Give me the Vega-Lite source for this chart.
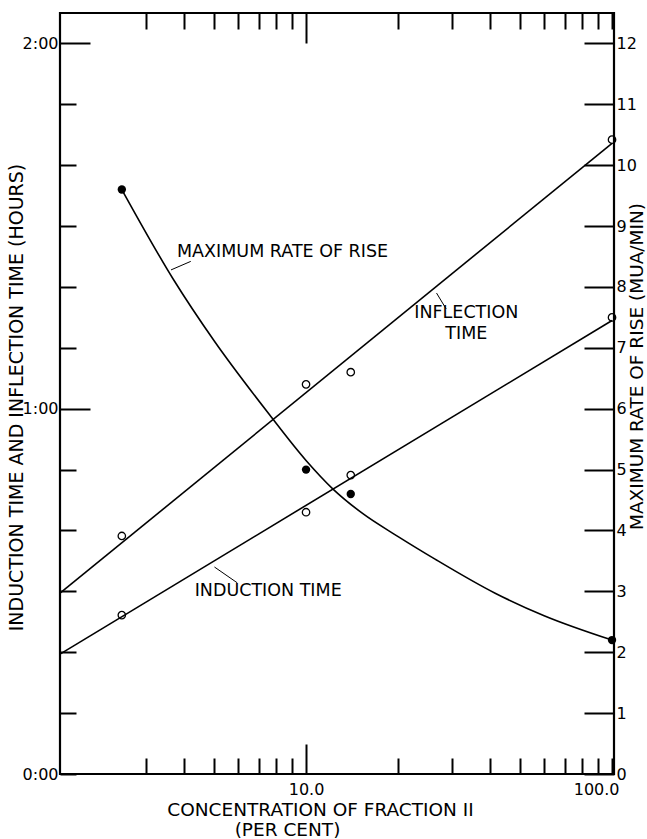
{
  "$schema": "https://vega.github.io/schema/vega-lite/v6.json",
  "width": 554,
  "height": 761,
  "autosize": {"type": "none"},
  "padding": {"left": 60, "top": 13, "right": 33, "bottom": 65},
  "background": "white",
  "config": {
    "view": {"stroke": "black", "strokeWidth": 2.2},
    "font": "DejaVu Sans",
    "axis": {
      "domain": false, "grid": false,
      "labelFont": "DejaVu Sans", "labelFontSize": 16, "labelColor": "black",
      "titleFont": "DejaVu Sans", "titleFontSize": 19, "titleFontWeight": "normal", "titleColor": "black",
      "tickColor": "black", "tickWidth": 2
    }
  },
  "datasets": {
    "fit": [
      {"series": "inflection", "conc": 1.57, "minutes": 29.7},
      {"series": "inflection", "conc": 100, "minutes": 103.6},
      {"series": "induction", "conc": 1.57, "minutes": 19.7},
      {"series": "induction", "conc": 100, "minutes": 74.5}
    ],
    "obs": [
      {"series": "inflection", "conc": 2.5, "minutes": 39.1},
      {"series": "inflection", "conc": 10, "minutes": 64.0},
      {"series": "inflection", "conc": 14, "minutes": 66.0},
      {"series": "inflection", "conc": 100, "minutes": 104.2},
      {"series": "induction", "conc": 2.5, "minutes": 26.1},
      {"series": "induction", "conc": 10, "minutes": 43.0},
      {"series": "induction", "conc": 14, "minutes": 49.1},
      {"series": "induction", "conc": 100, "minutes": 75.0}
    ],
    "rateCurve": [
      {"conc": 2.5, "rate": 9.6},
      {"conc": 3.7, "rate": 8.11},
      {"conc": 5, "rate": 7.12},
      {"conc": 7.6, "rate": 5.9},
      {"conc": 10, "rate": 5.15},
      {"conc": 12.25, "rate": 4.68},
      {"conc": 15.3, "rate": 4.28},
      {"conc": 20, "rate": 3.9},
      {"conc": 26.4, "rate": 3.53},
      {"conc": 41.5, "rate": 2.97},
      {"conc": 60, "rate": 2.6},
      {"conc": 100, "rate": 2.2}
    ],
    "rateObs": [
      {"conc": 2.5, "rate": 9.6},
      {"conc": 10, "rate": 5.0},
      {"conc": 14, "rate": 4.6},
      {"conc": 100, "rate": 2.2}
    ],
    "leaders": [
      {"conc": 4.2, "rate": 8.42, "conc2": 3.62, "rate2": 8.28},
      {"conc": 26.7, "rate": 7.9, "conc2": 28.7, "rate2": 7.64},
      {"conc": 5.02, "rate": 3.4, "conc2": 5.96, "rate2": 3.14}
    ],
    "labels": [
      {"conc": 8.38, "rate": 8.57, "text": "MAXIMUM RATE OF RISE"},
      {"conc": 33.4, "rate": 7.58, "text": "INFLECTION"},
      {"conc": 33.4, "rate": 7.23, "text": "TIME"},
      {"conc": 7.52, "rate": 3.0, "text": "INDUCTION TIME"}
    ]
  },
  "resolve": {"scale": {"y": "independent"}, "axis": {"x": "independent", "y": "independent"}},
  "layer": [
    {
      "encoding": {
        "x": {
          "field": "conc", "type": "quantitative",
          "scale": {"type": "log", "domain": [1.57, 101.5], "nice": false},
          "axis": {
            "orient": "bottom",
            "values": [3, 4, 5, 6, 7, 8, 9, 10, 20, 30, 40, 50, 60, 70, 80, 90, 100],
            "labelExpr": "datum.value == 10 ? '10.0' : datum.value == 100 ? '100.0' : ''",
            "tickSize": {"condition": {"test": "datum.value == 10", "value": -30}, "value": -16},
            "labelPadding": {"condition": {"test": "datum.value == 10", "value": 37}, "value": 23},
            "labelFlush": 5,
            "labelFlushOffset": 7,
            "labelOverlap": false,
            "title": "CONCENTRATION OF FRACTION II",
            "titleFontSize": 18.5,
            "titleX": 260,
            "titleY": 35,
            "titleBaseline": "middle",
            "titleAlign": "center"
          }
        },
        "y": {
          "field": "minutes", "type": "quantitative",
          "scale": {"domain": [0, 125], "nice": false, "zero": false},
          "axis": {
            "orient": "left",
            "values": [0, 10, 20, 30, 40, 50, 60, 70, 80, 90, 100, 110, 120],
            "labelExpr": "datum.value == 0 ? '0:00' : datum.value == 60 ? '1:00' : datum.value == 120 ? '2:00' : ''",
            "tickSize": {"condition": {"test": "datum.value == 60 || datum.value == 120", "value": -30}, "value": -16},
            "labelPadding": {"condition": {"test": "datum.value == 60 || datum.value == 120", "value": 32}, "value": 18},
            "labelOverlap": false,
            "title": "INDUCTION TIME AND INFLECTION TIME  (HOURS)",
            "titleX": -38,
            "titleY": 384,
            "titleAngle": -90,
            "titleBaseline": "alphabetic",
            "titleAlign": "center"
          }
        }
      },
      "layer": [
        {
          "data": {"name": "fit"},
          "mark": {"type": "line", "color": "black", "strokeWidth": 1.6},
          "encoding": {"detail": {"field": "series"}}
        },
        {
          "data": {"name": "obs"},
          "mark": {"type": "point", "shape": "circle", "filled": false, "stroke": "black", "strokeWidth": 1.3, "size": 55, "opacity": 1}
        }
      ]
    },
    {
      "encoding": {
        "x": {
          "field": "conc", "type": "quantitative",
          "scale": {"type": "log", "domain": [1.57, 101.5], "nice": false},
          "axis": {
            "orient": "top",
            "values": [3, 4, 5, 6, 7, 8, 9, 10, 20, 30, 40, 50, 60, 70, 80, 90, 100],
            "labels": false,
            "tickSize": {"condition": {"test": "datum.value == 10", "value": -30}, "value": -16},
            "title": "(PER CENT)",
            "titleFontSize": 18.5,
            "titleX": 227,
            "titleY": 816,
            "titleBaseline": "middle",
            "titleAlign": "center"
          }
        },
        "y": {
          "field": "rate", "type": "quantitative",
          "scale": {"domain": [0, 12.5], "nice": false, "zero": false},
          "axis": {
            "orient": "right",
            "values": [0, 1, 2, 3, 4, 5, 6, 7, 8, 9, 10, 11, 12],
            "tickSize": -30,
            "labelPadding": 32,
            "labelOverlap": false,
            "title": "MAXIMUM RATE OF RISE (MUA/MIN)",
            "titleFontSize": 18.5,
            "titleX": 28,
            "titleY": 353,
            "titleAngle": -90,
            "titleBaseline": "alphabetic",
            "titleAlign": "center"
          }
        }
      },
      "layer": [
        {
          "data": {"name": "rateCurve"},
          "mark": {"type": "line", "color": "black", "strokeWidth": 1.6, "interpolate": "monotone"}
        },
        {
          "data": {"name": "rateObs"},
          "mark": {"type": "point", "shape": "circle", "filled": true, "color": "black", "size": 70, "opacity": 1}
        },
        {
          "data": {"name": "leaders"},
          "mark": {"type": "rule", "color": "black", "strokeWidth": 1},
          "encoding": {"x2": {"field": "conc2"}, "y2": {"field": "rate2"}}
        },
        {
          "data": {"name": "labels"},
          "mark": {"type": "text", "color": "black", "fontSize": 17.5, "font": "DejaVu Sans", "align": "center", "baseline": "middle"},
          "encoding": {"text": {"field": "text"}}
        }
      ]
    }
  ]
}
